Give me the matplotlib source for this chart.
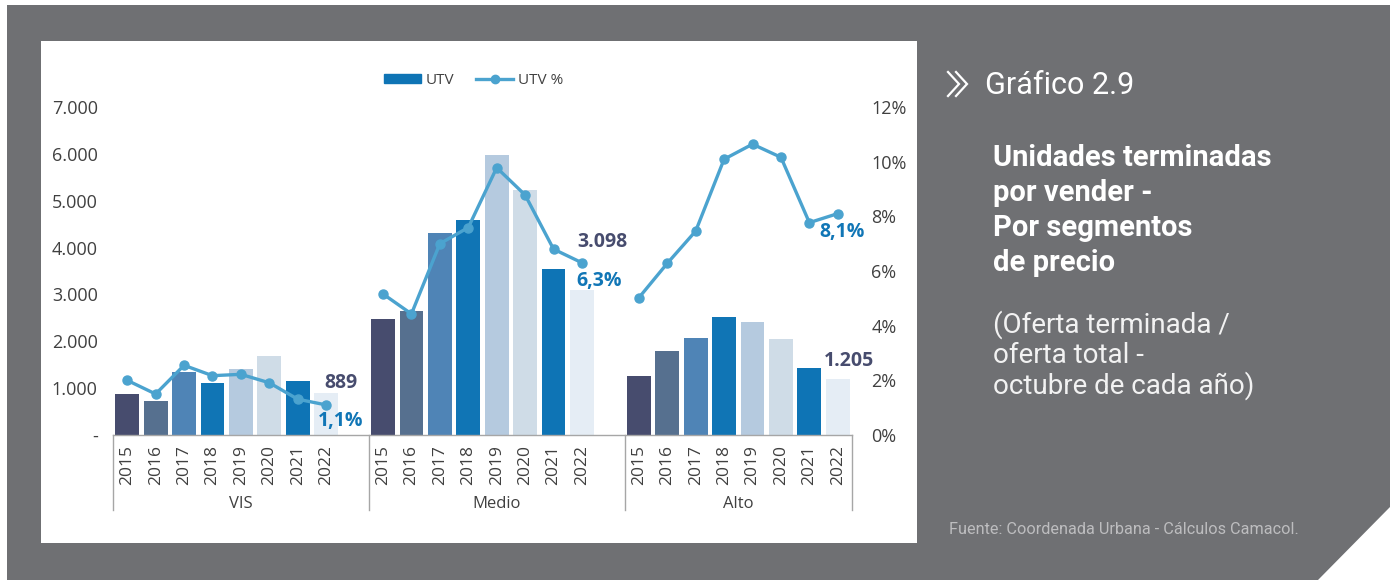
import matplotlib
matplotlib.use("Agg")
import matplotlib.pyplot as plt
from matplotlib.patches import Polygon, Rectangle, Patch
from matplotlib.lines import Line2D
from matplotlib.ticker import FuncFormatter
import numpy as np

plt.rcParams['font.family'] = ['Open Sans', 'DejaVu Sans']

segments = ["VIS", "Medio", "Alto"]
years = ["2015", "2016", "2017", "2018", "2019", "2020", "2021", "2022"]

# unidades terminadas por vender
utv_vis = [870, 725, 1345, 1110, 1410, 1685, 1145, 889]
utv_medio = [2475, 2646, 4310, 4595, 5975, 5228, 3550, 3098]
utv_alto = [1259, 1793, 2070, 2525, 2411, 2049, 1423, 1205]

# % de la oferta total
pct_vis = [2.0, 1.5, 2.55, 2.17, 2.22, 1.91, 1.31, 1.1]
pct_medio = [5.16, 4.43, 7.0, 7.59, 9.78, 8.78, 6.8, 6.3]
pct_alto = [5.02, 6.28, 7.46, 10.09, 10.64, 10.16, 7.77, 8.1]

utv = [utv_vis, utv_medio, utv_alto]
pct = [pct_vis, pct_medio, pct_alto]

year_colors = ["#474c6e", "#56708f", "#4f84b6", "#1075b5",
               "#b5cadf", "#cfdce7", "#0e74b5", "#e5edf5"]
line_c = "#4ba3cf"
txt_c = "#404040"
grid_c = "#a6a6a6"

# label offsets in px (dx, dy) for the last value of each segment
count_off = [(15, 10), (20, 48), (11, 18)]
pct_off = [(14, -16), (17, -18), (4, -18)]

W, H = 1400, 580
fig = plt.figure(figsize=(W / 100, H / 100), dpi=100)
fig.patch.set_facecolor("white")

# background in pixel coords
bg = fig.add_axes([0, 0, 1, 1])
bg.set_xlim(0, W)
bg.set_ylim(H, 0)
bg.axis("off")
bg.add_patch(Polygon([(7, 5), (1390, 5), (1390, 507), (1318, 580), (7, 580)],
                     closed=True, color="#6f7073", lw=0))
bg.add_patch(Rectangle((41, 41), 876, 502, color="white", lw=0))

# chart axes
x0, x1, ytop, ybot = 113, 852, 107, 435
ax = fig.add_axes([x0 / W, (H - ybot) / H, (x1 - x0) / W, (ybot - ytop) / H])
ax2 = ax.twinx()

ticks, labels = [], []
for g, (vals, p) in enumerate(zip(utv, pct)):
    x = g * 9 + np.arange(len(years)) + 0.5
    ax.bar(x, vals, width=0.84, color=year_colors, zorder=2)
    ax2.plot(x, p, color=line_c, lw=2.4, marker="o", ms=6.5,
             solid_capstyle="round", zorder=3)
    ticks += list(x)
    labels += years

    dx, dy = count_off[g]
    ax.annotate(f"{vals[-1]:,}".replace(",", "."), xy=(x[-1], vals[-1]),
                xytext=(dx * 0.72, dy * 0.72), textcoords="offset points",
                ha="center", va="center", fontsize=14, fontweight="bold",
                color="#474c6e")
    dx, dy = pct_off[g]
    ax2.annotate(f"{p[-1]:.1f}%".replace(".", ","), xy=(x[-1], p[-1]),
                 xytext=(dx * 0.72, dy * 0.72), textcoords="offset points",
                 ha="center", va="center", fontsize=14, fontweight="bold",
                 color="#1176b6")

ax.set_xlim(0, 26)
ax.set_ylim(0, 7000)
ax2.set_ylim(0, 12)

ax.set_yticks(range(0, 7001, 1000))
ax.yaxis.set_major_formatter(FuncFormatter(
    lambda v, _: "-" if v == 0 else f"{v:,.0f}".replace(",", ".")))
ax2.set_yticks(range(0, 13, 2))
ax2.yaxis.set_major_formatter(FuncFormatter(lambda v, _: f"{v:.0f}%"))

ax.set_xticks(ticks)
ax.set_xticklabels(labels, rotation=90)
ax.tick_params(axis="x", length=0, pad=7, labelsize=12.5, labelcolor=txt_c)
ax.tick_params(axis="y", length=0, pad=11, labelsize=13, labelcolor=txt_c)
ax2.tick_params(axis="y", length=0, pad=14, labelsize=13, labelcolor=txt_c)

for a in (ax, ax2):
    for s in ("top", "left", "right"):
        a.spines[s].set_visible(False)
ax2.spines["bottom"].set_visible(False)
ax.spines["bottom"].set_color(grid_c)
ax.spines["bottom"].set_linewidth(1)

tr = ax.get_xaxis_transform()
for xs in (0, 9, 18, 26):
    ax.plot([xs, xs], [0, -0.229], transform=tr, color=grid_c, lw=1,
            clip_on=False)
for g, name in enumerate(segments):
    ax.text((g * 9 + min(g * 9 + 9, 26)) / 2, -0.21, name, transform=tr,
            ha="center", va="center", fontsize=12, color=txt_c)

handles = [Patch(color="#0e74b5"),
           Line2D([], [], color=line_c, lw=2.4, marker="o", ms=6)]
leg = ax2.legend(handles, ["UTV", "UTV %"], loc="center",
                 bbox_to_anchor=(0.488, 1.082), ncol=2, frameon=False,
                 fontsize=11, handlelength=2.4, handleheight=0.55,
                 columnspacing=1.45, handletextpad=0.3)
for t in leg.get_texts():
    t.set_color(txt_c)

# right-hand panel text
roboto = ["Roboto", "DejaVu Sans"]
for off in (0, 8):
    bg.plot([948 + off, 959 + off, 948 + off], [72, 84, 96], color="white",
            lw=1.6, solid_joinstyle="miter")
bg.text(985, 85, "Gráfico 2.9", color="white", fontsize=22, family=roboto,
        ha="left", va="center")

title_lines = ["Unidades terminadas", "por vender -", "Por segmentos", "de precio"]
for i, line in enumerate(title_lines):
    bg.text(993, 158 + 35 * i, line, color="white", fontsize=21,
            fontweight="bold", family=roboto, ha="left", va="center")

sub_lines = ["(Oferta terminada /", "oferta total -", "octubre de cada año)"]
for i, line in enumerate(sub_lines):
    bg.text(993, 325 + 30.5 * i, line, color="#f2f2f2", fontsize=20,
            family=roboto, ha="left", va="center")

bg.text(949, 530, "Fuente: Coordenada Urbana - Cálculos Camacol.",
        color="#bdbdbf", fontsize=11.7, family=roboto,
        ha="left", va="center")

fig.savefig("out.png", dpi=100)
